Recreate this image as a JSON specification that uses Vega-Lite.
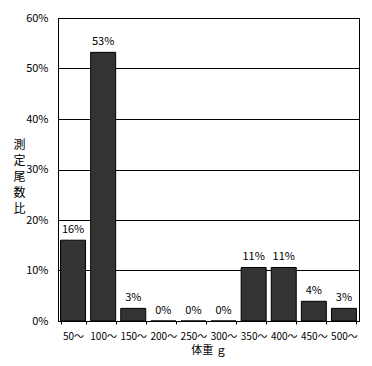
{
  "$schema": "https://vega.github.io/schema/vega-lite/v6.json",
  "width": 301,
  "height": 303,
  "autosize": {"type": "none"},
  "padding": {"left": 58, "top": 18, "right": 13, "bottom": 45},
  "background": "white",
  "config": {
    "font": "Noto Sans CJK JP",
    "view": {"stroke": "black", "strokeWidth": 1},
    "axis": {"labelFont": "Noto Sans CJK JP", "titleFont": "Noto Sans CJK JP", "labelColor": "black", "titleColor": "black", "labelFontSize": 11, "titleFontSize": 12, "titleFontWeight": "normal", "domainColor": "black", "tickColor": "black"}
  },
  "data": {
    "values": [
      {"weight": "50～", "ratio": 0.16},
      {"weight": "100～", "ratio": 0.532},
      {"weight": "150～", "ratio": 0.025},
      {"weight": "200～", "ratio": 0},
      {"weight": "250～", "ratio": 0},
      {"weight": "300～", "ratio": 0},
      {"weight": "350～", "ratio": 0.106},
      {"weight": "400～", "ratio": 0.106},
      {"weight": "450～", "ratio": 0.039},
      {"weight": "500～", "ratio": 0.025}
    ]
  },
  "encoding": {
    "x": {
      "field": "weight", "type": "ordinal", "sort": null,
      "scale": {"paddingInner": 0.17, "paddingOuter": 0.085},
      "axis": {"title": "体重 ｇ", "titleFontSize": 11, "labelFontSize": 10, "labelAngle": 0, "tickBand": "extent", "tickSize": 3, "labelPadding": 7, "titlePadding": 3, "grid": false, "labelOverlap": false}
    },
    "y": {
      "field": "ratio", "type": "quantitative",
      "scale": {"domain": [0, 0.6], "nice": false},
      "axis": {
        "title": ["測", "定", "尾", "数", "比"],
        "titleAngle": 0, "titleAlign": "center", "titleBaseline": "middle",
        "titleX": -39, "titleY": 126, "titleLineHeight": 16,
        "format": ".0%", "values": [0, 0.1, 0.2, 0.3, 0.4, 0.5, 0.6],
        "ticks": false, "labelPadding": 10, "domain": true,
        "grid": true, "gridColor": "black", "gridOpacity": 1, "gridWidth": 1
      }
    }
  },
  "layer": [
    {"mark": {"type": "bar", "fill": "#333333", "stroke": "black", "strokeWidth": 1}},
    {
      "mark": {"type": "text", "baseline": "bottom", "dy": -5, "fontSize": 11, "color": "black", "font": "Noto Sans CJK JP"},
      "encoding": {"text": {"field": "ratio", "type": "quantitative", "format": ".0%"}}
    }
  ]
}
